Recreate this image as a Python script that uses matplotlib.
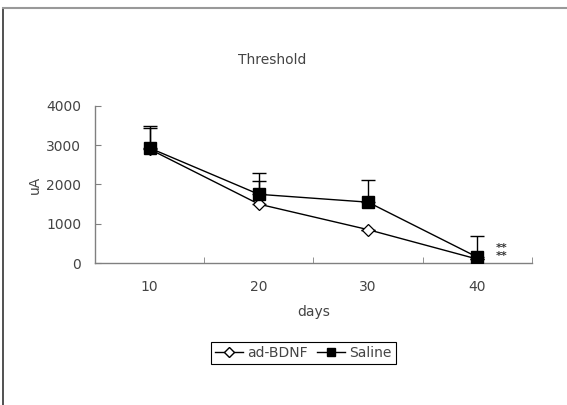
import matplotlib.pyplot as plt
from matplotlib.lines import Line2D

days = ['10', '20', '30', '40']
bdnf = [2900, 1500, 850, 100]
bdnf_err = [550, 600, 0, 0]
saline = [2930, 1750, 1550, 150]
saline_err = [570, 550, 560, 540]
yticks = [0, 1000, 2000, 3000, 4000]

plt.rcParams['font.family'] = ['DejaVu Sans']
txt = '#444444'
ax_col = '#808080'

fig = plt.figure(figsize=(5.67, 4.05), dpi=100)
ax = fig.add_axes([0.1676, 0.3506, 0.7704, 0.3877])

x = list(range(1, len(days) + 1))
ax.errorbar(x, bdnf, yerr=[[0] * 4, bdnf_err], fmt='none', ecolor='black',
            elinewidth=1, capsize=5, capthick=1, zorder=2)
ax.errorbar(x, saline, yerr=[[0] * 4, saline_err], fmt='none', ecolor='black',
            elinewidth=1, capsize=5, capthick=1, zorder=2)
ax.plot(x, bdnf, color='black', lw=1, marker='D', markersize=6.5,
        markerfacecolor='white', markeredgecolor='black', markeredgewidth=0.9, zorder=3)
ax.plot(x, saline, color='black', lw=1, marker='s', markersize=9,
        markerfacecolor='black', markeredgecolor='black', zorder=4)

ax.set_xlim(0.5, 4.5)
ax.set_ylim(0, 4000)
ax.set_xticks(x)
ax.set_xticklabels(days)
ax.set_xticks([0.5, 1.5, 2.5, 3.5, 4.5], minor=True)
ax.tick_params(axis='x', which='major', length=0, pad=12, labelsize=10, labelcolor=txt)
ax.tick_params(axis='x', which='minor', direction='in', length=4, color=ax_col)
ax.set_yticks(yticks)
ax.tick_params(axis='y', direction='in', length=4, color=ax_col, pad=10,
               labelsize=10, labelcolor=txt)
for s in ['top', 'right']:
    ax.spines[s].set_visible(False)
for s in ['left', 'bottom']:
    ax.spines[s].set_color(ax_col)
    ax.spines[s].set_linewidth(1)

ax.set_xlabel('days', fontsize=10, color=txt, labelpad=8)
ax.set_ylabel('uA', fontsize=10, color=txt, labelpad=3)
fig.text(0.48, 0.852, 'Threshold', fontsize=10, color=txt, ha='center', va='center')

# significance marks next to day 40
fig.text(0.884, 0.378, '**\n**', fontsize=8, fontweight='bold', color='#333333',
         ha='center', va='center', linespacing=0.8)

handles = [Line2D([], [], color='black', lw=1, marker='D', markersize=5,
                  markerfacecolor='white', markeredgecolor='black'),
           Line2D([], [], color='black', lw=1, marker='s', markersize=6,
                  markerfacecolor='black')]
leg = fig.legend(handles, ['ad-BDNF', 'Saline'], loc='center', ncol=2,
                 bbox_to_anchor=(0.535, 0.128), fancybox=False, framealpha=1,
                 edgecolor='black', fontsize=10, handlelength=2.0,
                 handletextpad=0.3, columnspacing=0.7, borderpad=0.3)
leg.get_frame().set_linewidth(0.8)
for t in leg.get_texts():
    t.set_color(txt)

# page border on left and top
fig.add_artist(Line2D([0.005, 0.005], [0, 0.981], color='#333333', lw=1.2))
fig.add_artist(Line2D([0.005, 1.0], [0.981, 0.981], color='#999999', lw=1.5))

fig.savefig('out.png', dpi=100)
